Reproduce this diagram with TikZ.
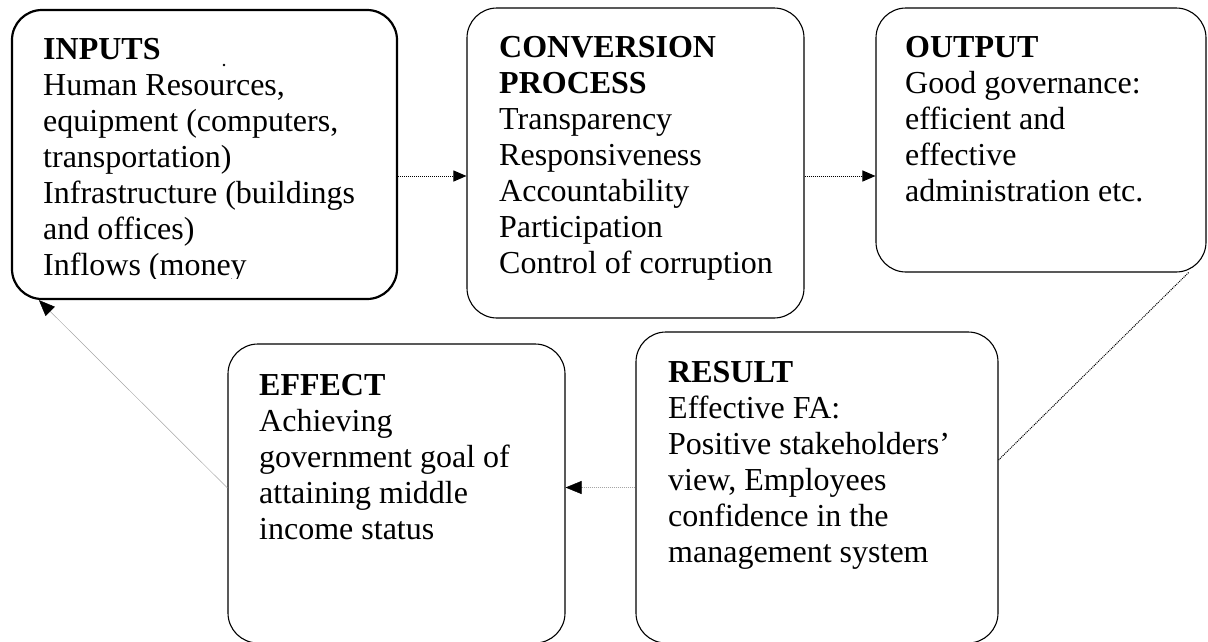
\documentclass[tikz,border=0pt]{standalone}
\usepackage{fontspec}
\setmainfont{Liberation Serif}
\usetikzlibrary{arrows.meta}
\begin{document}
\begin{tikzpicture}[x=1pt,y=-1pt,
  box/.style={draw, rounded corners=30pt, line width=1.1pt, inner sep=0pt},
  txt/.style={anchor=north west, inner sep=0pt, align=left, font=\fontsize{32}{36}\selectfont},
  tipend/.style={-{Triangle[length=13pt 0 0,width=11pt 0 0,color=black]}},
  greytip/.style={-{Triangle[length=16pt 0 0,width=13pt 0 0,color=black]}},
  dotline/.style={line width=1pt, dash pattern=on 1pt off 1pt},
  greyline/.style={draw=black!35, line width=0.5pt}]
\useasboundingbox (0,0) rectangle (1208,641);
\clip (0,0) rectangle (1208,641);
% boxes
\node[box, line width=2.2pt, minimum width=385pt, minimum height=289pt] (inputs) at (204.5,154.5) {};
\node[box, minimum width=337pt, minimum height=310pt] (conv) at (635.5,163) {};
\node[box, minimum width=330pt, minimum height=264pt] (output) at (1041,140) {};
\node[box, minimum width=362pt, minimum height=311pt] (result) at (817,487.5) {};
\node[box, minimum width=337pt, minimum height=299pt] (effect) at (396.5,493.5) {};
% texts
\begin{scope}
\clip (0,0) rectangle (1208,278);
\node[txt] (inputstxt) at (43,33.8) {\strut\textbf{INPUTS}\\Human Resources,\\equipment (computers,\\transportation)\\Infrastructure (buildings\\and offices)\\Inflows (money};
\end{scope}
\fill (224,65) circle (1.3pt);
\node[txt] (convtxt) at (499,31.8) {\strut\textbf{CONVERSION}\\\textbf{PROCESS}\\Transparency\\Responsiveness\\Accountability\\Participation\\Control of corruption};
\node[txt] (outputtxt) at (905,31.8) {\strut\textbf{OUTPUT}\\Good governance:\\efficient and\\effective\\administration etc.};
\node[txt] (resulttxt) at (668,356.8) {\strut\textbf{RESULT}\\Effective FA:\\Positive stakeholders’\\view, Employees\\confidence in the\\management system};
\node[txt] (effecttxt) at (259,369.8) {\strut\textbf{EFFECT}\\Achieving\\government goal of\\attaining middle\\income status};
% connectors
\draw[dotline, tipend] ([yshift=-21.5pt]inputs.east) -- ([yshift=-13pt]conv.west);
\draw[dotline, tipend] ([yshift=-13pt]conv.east) -- ([yshift=-36pt]output.west);
\draw[dotline, line width=1pt] ([xshift=-18pt]output.south east) -- ([yshift=27.5pt]result.east);
\draw[greyline, dash pattern=on 1pt off 1pt, greytip] (result.west) -- (result.west -| effect.east);
\draw[greyline, greytip] ([yshift=5.5pt]effect.west) -- ([xshift=28pt]inputs.south west);
\end{tikzpicture}
\end{document}
